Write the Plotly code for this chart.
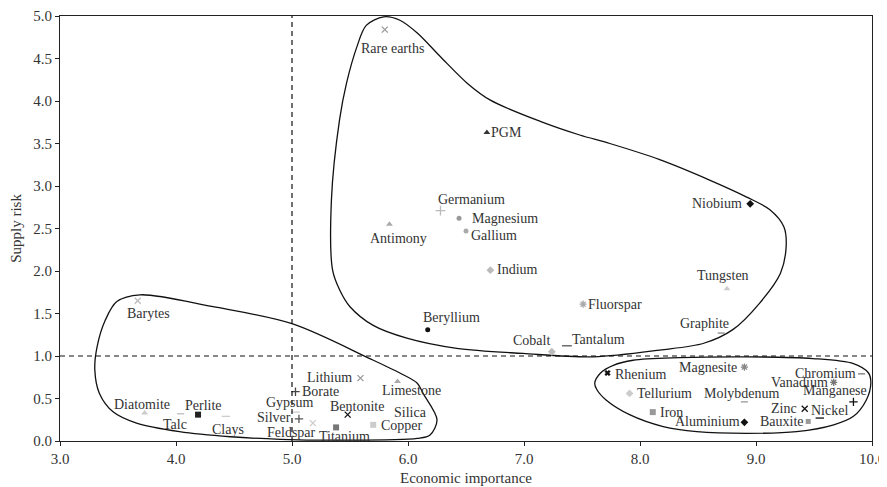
import plotly.graph_objects as go

# ---------------- data ----------------
minerals = ["Rare earths", "PGM", "Germanium", "Magnesium", "Gallium", "Antimony", "Indium",
            "Fluorspar", "Beryllium", "Cobalt", "Tantalum", "Niobium", "Tungsten", "Graphite",
            "Barytes", "Diatomite", "Talc", "Perlite", "Clays", "Gypsum", "Silver", "Borate",
            "Feldspar", "Lithium", "Limestone", "Bentonite", "Titanium", "Copper", "Silica",
            "Rhenium", "Magnesite", "Chromium", "Vanadium", "Tellurium", "Molybdenum",
            "Manganese", "Iron", "Zinc", "Nickel", "Aluminium", "Bauxite"]
economic_importance = [5.80, 6.68, 6.28, 6.44, 6.50, 5.84, 6.71,
                       7.51, 6.17, 7.24, 7.37, 8.95, 8.75, 8.70,
                       3.67, 3.73, 4.04, 4.19, 4.43, 5.03, 5.06, 5.03,
                       5.18, 5.59, 5.91, 5.48, 5.38, 5.70, 6.02,
                       7.72, 8.90, 9.91, 9.67, 7.91, 8.90,
                       9.84, 8.11, 9.42, 9.55, 8.90, 9.45]
supply_risk = [4.84, 3.63, 2.71, 2.62, 2.47, 2.55, 2.01,
               1.61, 1.31, 1.05, 1.12, 2.79, 1.79, 1.27,
               1.65, 0.33, 0.32, 0.31, 0.29, 0.34, 0.26, 0.58,
               0.21, 0.74, 0.70, 0.31, 0.16, 0.19, 0.33,
               0.80, 0.87, 0.79, 0.69, 0.56, 0.46,
               0.46, 0.34, 0.38, 0.27, 0.22, 0.23]

x_ticks = [3.0, 4.0, 5.0, 6.0, 7.0, 8.0, 9.0, 10.0]
y_ticks = [0.0, 0.5, 1.0, 1.5, 2.0, 2.5, 3.0, 3.5, 4.0, 4.5, 5.0]
econ_threshold = 5.0
risk_threshold = 1.0

# outline groups (closed curves, data coordinates)
group_low_x = [3.69, 3.49, 3.39, 3.32, 3.30, 3.34, 3.46, 3.66, 4.03, 4.47, 4.90, 5.41, 6.08, 6.19, 6.25,
               6.13, 6.08, 5.93, 5.67, 5.00, 4.32, 3.69]
group_low_y = [1.72, 1.64, 1.42, 1.11, 0.84, 0.56, 0.34, 0.21, 0.11, 0.05, 0.02, 0.01, 0.03, 0.07, 0.25,
               0.56, 0.68, 0.80, 0.97, 1.38, 1.58, 1.72]

group_crit_x = [5.79, 5.93, 6.08, 6.28, 6.51, 6.71, 7.14, 7.48, 7.74, 8.17, 8.60, 8.92, 9.12, 9.24, 9.26,
                9.21, 9.03, 8.80, 8.55, 8.17, 7.60, 6.99, 6.42, 5.99, 5.70, 5.50, 5.41, 5.35, 5.34,
                5.41, 5.47, 5.56, 5.64, 5.79]
group_crit_y = [4.99, 4.95, 4.80, 4.52, 4.21, 4.01, 3.76, 3.60, 3.50, 3.31, 3.07, 2.87, 2.72, 2.52, 2.29,
                1.97, 1.62, 1.31, 1.15, 1.07, 0.99, 1.03, 1.09, 1.21, 1.36, 1.58, 1.78, 2.01, 2.84,
                3.78, 4.21, 4.64, 4.89, 4.99]

group_metal_x = [7.61, 7.66, 7.77, 7.94, 8.34, 8.92, 9.49, 9.84, 9.97, 9.99, 9.95, 9.84, 9.67, 9.35,
                 8.92, 8.49, 8.20, 7.91, 7.71, 7.63, 7.61]
group_metal_y = [0.68, 0.80, 0.89, 0.95, 0.98, 0.99, 0.97, 0.91, 0.80, 0.68, 0.48, 0.29, 0.19, 0.11,
                 0.09, 0.11, 0.17, 0.31, 0.48, 0.60, 0.68]

# ---------------- styles ----------------
symbols = ["x-thin", "triangle-up", "cross-thin", "circle", "circle", "triangle-up", "diamond",
           "asterisk", "circle", "diamond", "line-ew", "diamond", "triangle-up", "line-ew",
           "x-thin", "triangle-up", "line-ew", "square", "line-ew", "line-ew", "cross-thin", "cross-thin",
           "x-thin", "x-thin", "triangle-up", "x-thin", "square", "square", "circle",
           "x", "asterisk", "line-ew", "asterisk", "diamond", "line-ew",
           "cross-thin", "square", "x-thin", "line-ew", "diamond", "square"]
colors = ["#999999", "#333333", "#bbbbbb", "#999999", "#aaaaaa", "#aaaaaa", "#bbbbbb",
          "#aaaaaa", "#111111", "#bbbbbb", "#555555", "#111111", "#cccccc", "#888888",
          "#bbbbbb", "#cccccc", "#bbbbbb", "#222222", "#cccccc", "#cccccc", "#555555", "#444444",
          "#cccccc", "#999999", "#aaaaaa", "#111111", "#777777", "#cccccc", "#ffffff",
          "#111111", "#888888", "#777777", "#777777", "#cccccc", "#999999",
          "#111111", "#999999", "#111111", "#111111", "#111111", "#999999"]
sizes = [6, 6, 7, 5, 5, 6, 6,
         6, 5, 6, 7, 6, 6, 5,
         6, 6, 5, 6, 6, 6, 6, 6,
         6, 6, 6, 6, 6, 6, 3,
         5, 6, 5, 6, 6, 5,
         6, 6, 6, 6, 6, 5]
label_dx = [7.5, 20, 31, 45.5, 28, 9, 27,
            32, 24, -20.5, 32, -33, -4, -17,
            11, -2.5, -6, 5, 2, -5, -25, 25,
            -21, -31, 13.5, 9, 8, 28.5, 0,
            33, -36, -36, -34.5, 35, -2,
            -18, 19, -21, 10, -36.5, -26]
label_dy = [-19, 0, 11, 0, -4, -14, 1,
            0, 12, 11, 6, 0, 13, 10,
            -13, 8, -11, 9, -13, 10, 1, 0,
            -9, 1, -9, 8, -9, -1, 0,
            -1, 0, 0, 0, 0, 8,
            11, 0, 0, 8, 1, 0]

FONT = "Liberation Serif"
LABEL_SIZE = 14
fig = go.Figure()

for gx, gy in [(group_low_x, group_low_y), (group_crit_x, group_crit_y), (group_metal_x, group_metal_y)]:
    fig.add_trace(go.Scatter(x=gx, y=gy, mode="lines",
                             line=dict(color="#111111", width=1.3, shape="spline", smoothing=0.9),
                             hoverinfo="skip", showlegend=False))

for i, name in enumerate(minerals):
    lw = 1.3 if symbols[i] in ("x", "line-ew", "cross-thin", "x-thin", "asterisk") else 0
    if symbols[i] == "x":
        lw = 0.5
    fig.add_trace(go.Scatter(
        x=[economic_importance[i]], y=[supply_risk[i]], mode="markers", name=name,
        marker=dict(symbol=symbols[i], size=sizes[i], color=colors[i],
                    line=dict(color=colors[i], width=lw)),
        showlegend=False))
    fig.add_annotation(x=economic_importance[i], y=supply_risk[i], text=name, showarrow=False,
                       xanchor="center", yanchor="middle", xshift=label_dx[i], yshift=label_dy[i],
                       font=dict(family=FONT, size=LABEL_SIZE, color="#333333"))

fig.add_shape(type="line", x0=econ_threshold, x1=econ_threshold, y0=0, y1=1, yref="paper",
              line=dict(color="#111111", width=1.2, dash="5px,4px"))
fig.add_shape(type="line", y0=risk_threshold, y1=risk_threshold, x0=0, x1=1, xref="paper",
              line=dict(color="#111111", width=1.2, dash="5px,4px"))

axis_common = dict(showgrid=False, zeroline=False, showline=True, linecolor="#222222", linewidth=1.2,
                   mirror=True, ticks="outside", ticklen=4, tickcolor="#222222", automargin=False,
                   ticklabeloverflow="allow",
                   tickfont=dict(family=FONT, size=15, color="#333333"))
fig.update_xaxes(range=[3, 10], tickvals=x_ticks, ticktext=[f"{v:.1f}" for v in x_ticks],
                 title=dict(text="Economic importance", font=dict(family=FONT, size=15, color="#333333"),
                            standoff=6), **axis_common)
fig.update_yaxes(range=[0, 5], tickvals=y_ticks, ticktext=[f"{v:.1f}" for v in y_ticks],
                 title=dict(text="Supply risk", font=dict(family=FONT, size=15, color="#333333"),
                            standoff=11), **axis_common)

# page body adds an 8px offset; figure size and margins compensate so the plot sits where the reference has it
fig.update_layout(width=879, height=479, margin=dict(l=52, r=15, t=8, b=46),
                  plot_bgcolor="white", paper_bgcolor="white",
                  font=dict(family=FONT, color="#333333"))

fig.write_html("out.html")
